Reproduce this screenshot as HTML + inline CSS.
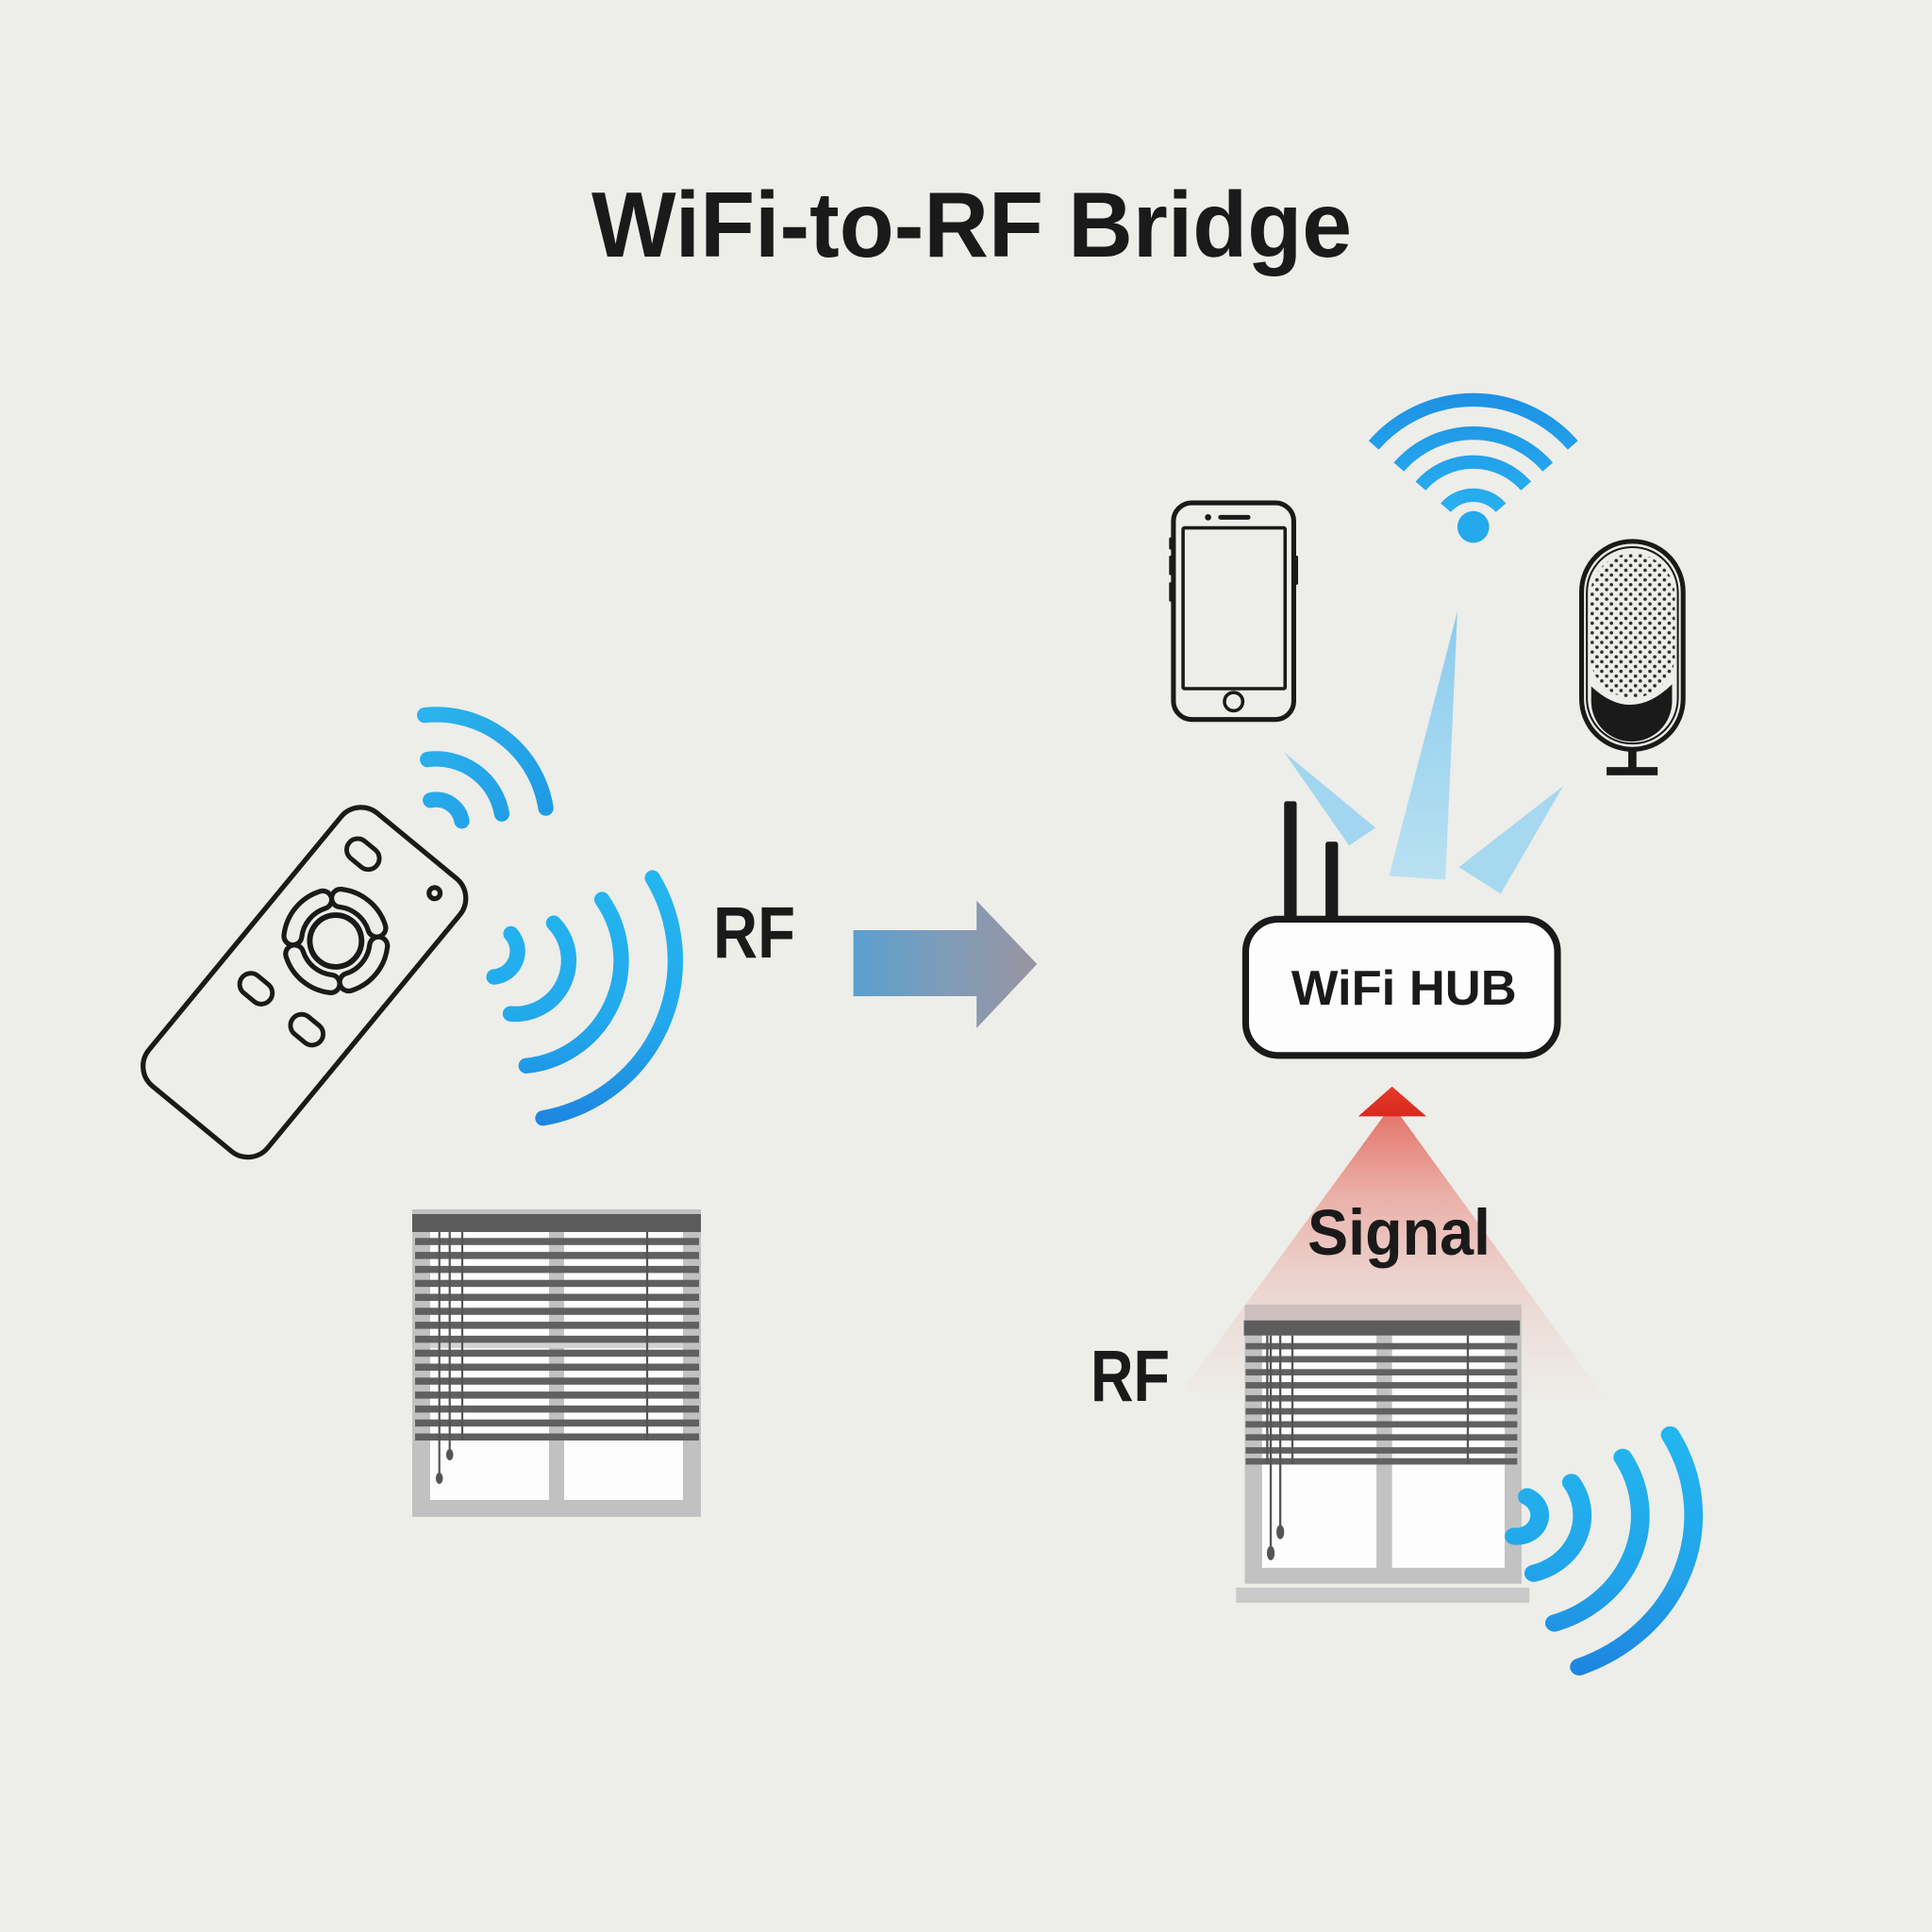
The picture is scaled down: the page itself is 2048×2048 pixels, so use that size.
<!DOCTYPE html>
<html><head><meta charset="utf-8"><style>
html,body{margin:0;padding:0;background:#edede9;}
svg{display:block;}
text{font-family:"Liberation Sans",Arial,sans-serif;font-weight:bold;fill:#1a1a1a;}
</style></head><body>
<svg width="2048" height="2048" viewBox="0 0 2048 2048" xmlns="http://www.w3.org/2000/svg">
<defs>
  <linearGradient id="gUp" gradientUnits="userSpaceOnUse" x1="540" y1="90" x2="730" y2="240">
    <stop offset="0" stop-color="#2ab3ec"/><stop offset="1" stop-color="#1f9be5"/>
  </linearGradient>
  <linearGradient id="gRt" gradientUnits="userSpaceOnUse" x1="0" y1="350" x2="0" y2="750">
    <stop offset="0" stop-color="#24b6ef"/><stop offset="0.6" stop-color="#22a8ec"/><stop offset="1" stop-color="#1e86e0"/>
  </linearGradient>
  <linearGradient id="gBR" gradientUnits="userSpaceOnUse" x1="0" y1="900" x2="0" y2="1500">
    <stop offset="0" stop-color="#22b6ef"/><stop offset="0.6" stop-color="#21a4ea"/><stop offset="1" stop-color="#1e86e0"/>
  </linearGradient>
  <linearGradient id="gArrow" gradientUnits="userSpaceOnUse" x1="1232" y1="0" x2="1530" y2="0">
    <stop offset="0" stop-color="#5a9fd1"/><stop offset="0.5" stop-color="#7f9cb8"/><stop offset="1" stop-color="#9a94a1"/>
  </linearGradient>
  <linearGradient id="gWifi" gradientUnits="userSpaceOnUse" x1="0" y1="70" x2="0" y2="330">
    <stop offset="0" stop-color="#1d90e4"/><stop offset="1" stop-color="#29b2ef"/>
  </linearGradient>
  <linearGradient id="gBeam" gradientUnits="userSpaceOnUse" x1="0" y1="525" x2="0" y2="1085">
    <stop offset="0" stop-color="#8acbed"/><stop offset="1" stop-color="#b9e1f2"/>
  </linearGradient>
  <linearGradient id="gCone" gradientUnits="userSpaceOnUse" x1="0" y1="100" x2="0" y2="820">
    <stop offset="0" stop-color="#e3463a" stop-opacity="0.72"/>
    <stop offset="0.28" stop-color="#e65a4e" stop-opacity="0.42"/>
    <stop offset="0.55" stop-color="#e86a5f" stop-opacity="0.22"/>
    <stop offset="0.78" stop-color="#ea7a70" stop-opacity="0.1"/>
    <stop offset="1" stop-color="#ea7a70" stop-opacity="0"/>
  </linearGradient>
  <linearGradient id="gHead" gradientUnits="userSpaceOnUse" x1="0" y1="28" x2="0" y2="103">
    <stop offset="0" stop-color="#e43a2b"/><stop offset="1" stop-color="#d82a1e"/>
  </linearGradient>
  <pattern id="dots" width="20" height="20" patternUnits="userSpaceOnUse" x="1100" y="405">
    <circle cx="5" cy="5" r="3.6" fill="#2e2e2e"/>
    <circle cx="15" cy="15" r="3.6" fill="#2e2e2e"/>
  </pattern>
  <clipPath id="grille"><rect x="1101" y="405" width="176" height="300" rx="88"/></clipPath>
</defs>

<rect width="2048" height="2048" fill="#edede9"/>

<!-- Title -->
<text x="627" y="272" font-size="98" textLength="806" lengthAdjust="spacingAndGlyphs">WiFi-to-RF Bridge</text>

<!-- ===== Left region (zoom7 coordinates) ===== -->
<g transform="translate(100,700) scale(0.6531)">
  <!-- remote -->
  <g transform="translate(341,522.5) rotate(39.5)" fill="none" stroke="#1a1a1a">
    <rect x="-125" y="-287" width="250" height="574" rx="42" stroke-width="8"/>
    <rect x="-88" y="-239" width="58" height="36" rx="18" stroke-width="7.5"/>
    <circle cx="71" cy="-246" r="9" stroke-width="8"/>
    <rect x="-83" y="40" width="58" height="36" rx="18" stroke-width="7.5"/>
    <rect x="23" y="39" width="58" height="36" rx="18" stroke-width="7.5"/>
    <circle cx="-3.5" cy="-84" r="42" stroke-width="9"/>
    <path d="M55.2,-122.1 A70,70 0 0 1 55.2,-45.9 M34.6,-25.3 A70,70 0 0 1 -41.6,-25.3 M-62.2,-45.9 A70,70 0 0 1 -62.2,-122.1 M-41.6,-142.7 A70,70 0 0 1 34.6,-142.7" stroke-width="37" stroke-linecap="round"/>
    <path d="M55.2,-122.1 A70,70 0 0 1 55.2,-45.9 M34.6,-25.3 A70,70 0 0 1 -41.6,-25.3 M-62.2,-45.9 A70,70 0 0 1 -62.2,-122.1 M-41.6,-142.7 A70,70 0 0 1 34.6,-142.7" stroke="#edede9" stroke-width="21" stroke-linecap="round"/>
  </g>
  <!-- upper waves -->
  <g fill="none" stroke="url(#gUp)" stroke-width="25" stroke-linecap="round">
    <path d="M545.5,227.1 A42,42 0 0 1 596.4,260.7"/>
    <path d="M540.9,160.9 A108,108 0 0 1 661.4,249.2"/>
    <path d="M536.2,89 A180,180 0 0 1 732.8,239.8"/>
  </g>
  <!-- right waves -->
  <g fill="none" stroke="url(#gRt)" stroke-width="25" stroke-linecap="round">
    <path d="M676.2,443.9 A42,42 0 0 1 648.7,513.8"/>
    <path d="M745.6,426.6 A87,87 0 0 1 675.4,573.7"/>
    <path d="M823.9,388.3 A172,172 0 0 1 701,658.1"/>
    <path d="M905.9,353.1 A260,260 0 0 1 728.1,743"/>
  </g>
  <!-- arrow -->
  <polygon points="1232,438 1432,438 1432,390 1530,493 1432,597 1432,545 1232,545" fill="url(#gArrow)"/>
</g>

<text x="756" y="1015" font-size="77" textLength="87" lengthAdjust="spacingAndGlyphs">RF</text>

<!-- Left blinds -->
<g>
  <rect x="437" y="1282" width="306" height="326" fill="#c1c1c1"/>
  <rect x="456" y="1306" width="126" height="284" fill="#fdfdfd"/>
  <rect x="598" y="1306" width="126" height="284" fill="#fdfdfd"/>
  <rect x="456" y="1420" width="268" height="9" fill="#d2d2d2"/>
  <rect x="437" y="1287" width="306" height="19" fill="#5c5c5c"/>
  <g fill="#606060">
    <rect x="440" y="1312.3" width="301" height="7.5"/>
    <rect x="440" y="1327.1" width="301" height="7.5"/>
    <rect x="440" y="1341.9" width="301" height="7.5"/>
    <rect x="440" y="1356.7" width="301" height="7.5"/>
    <rect x="440" y="1371.5" width="301" height="7.5"/>
    <rect x="440" y="1386.3" width="301" height="7.5"/>
    <rect x="440" y="1401.1" width="301" height="7.5"/>
    <rect x="440" y="1415.9" width="301" height="7.5"/>
    <rect x="440" y="1430.7" width="301" height="7.5"/>
    <rect x="440" y="1445.5" width="301" height="7.5"/>
    <rect x="440" y="1460.3" width="301" height="7.5"/>
    <rect x="440" y="1475.1" width="301" height="7.5"/>
    <rect x="440" y="1489.9" width="301" height="7.5"/>
    <rect x="440" y="1504.7" width="301" height="7.5"/>
    <rect x="440" y="1519.5" width="301" height="7.5"/>
  </g>
  <g stroke="#555" stroke-width="2.2">
    <line x1="465.7" y1="1306" x2="465.7" y2="1564"/>
    <line x1="476.7" y1="1306" x2="476.7" y2="1539"/>
    <line x1="490" y1="1306" x2="490" y2="1526"/>
    <line x1="686" y1="1306" x2="686" y2="1526"/>
  </g>
  <ellipse cx="465.7" cy="1567" rx="3.8" ry="6" fill="#555"/>
  <ellipse cx="476.7" cy="1542" rx="3.8" ry="6" fill="#555"/>
</g>

<!-- ===== Right upper region (zoom8 coordinates) ===== -->
<g transform="translate(1124,380) scale(0.5102)">
  <!-- wifi -->
  <g fill="none" stroke="url(#gWifi)" stroke-width="28">
    <path d="M800.6,310.1 A76,76 0 0 1 915.4,310.1"/>
    <path d="M748.6,264.9 A145,145 0 0 1 967.4,264.9"/>
    <path d="M703.3,225.5 A205,205 0 0 1 1012.7,225.5"/>
    <path d="M651.2,180.2 A274,274 0 0 1 1064.8,180.2"/>
  </g>
  <circle cx="858" cy="350" r="33" fill="#25a9ed"/>

  <!-- phone -->
  <g fill="none" stroke="#1a1a1a">
    <rect x="235" y="300" width="250" height="450" rx="38" stroke-width="10"/>
    <rect x="255" y="352" width="212" height="334" rx="3" stroke-width="7"/>
    <circle cx="360" cy="713" r="19" stroke-width="7"/>
    <line x1="333" y1="330" x2="390" y2="330" stroke-width="10" stroke-linecap="round"/>
  </g>
  <circle cx="307" cy="330" r="6.5" fill="#1a1a1a"/>
  <g fill="#1a1a1a">
    <rect x="226" y="372" width="9" height="25" rx="2"/>
    <rect x="226" y="410" width="9" height="40" rx="2"/>
    <rect x="226" y="465" width="9" height="40" rx="2"/>
    <rect x="485" y="410" width="9" height="60" rx="2"/>
  </g>

  <!-- mic -->
  <rect x="1101" y="405" width="176" height="300" fill="url(#dots)" clip-path="url(#grille)"/>
  <path d="M1103,681 Q1186,760 1271,677 L1271,712 A84,84 0 0 1 1103,712 Z" fill="#1a1a1a"/>
  <rect x="1083" y="380" width="211" height="432" rx="105" fill="none" stroke="#1a1a1a" stroke-width="10"/>
  <rect x="1094" y="392" width="189" height="408" rx="94" fill="none" stroke="#1a1a1a" stroke-width="4"/>
  <rect x="1180" y="810" width="17" height="44" fill="#1a1a1a"/>
  <rect x="1135" y="849" width="106" height="17" fill="#1a1a1a"/>

  <!-- beams -->
  <polygon points="465,818 655,975 600,1012" fill="#a2d6f0"/>
  <polygon points="825,525 800,1083 683,1075" fill="url(#gBeam)"/>
  <polygon points="1045,888 915,1112 828,1057" fill="#a6d8f0"/>

  <!-- hub -->
  <rect x="465" y="920" width="26" height="245" rx="5" fill="#1a1a1a"/>
  <rect x="551" y="1004" width="26" height="161" rx="5" fill="#1a1a1a"/>
  <rect x="385" y="1165" width="648" height="283" rx="68" fill="#fdfdfd" stroke="#1a1a1a" stroke-width="14"/>
  <text x="480" y="1343" font-size="102" textLength="468" lengthAdjust="spacingAndGlyphs">WiFi HUB</text>
</g>

<!-- ===== Right lower region (zoom3 coordinates) ===== -->
<g transform="translate(1100,1140) scale(0.4592,0.4209)">
  <polygon points="800,100 836,100 1315,820 330,800" fill="url(#gCone)"/>
  <polygon points="818,28 897,103 740,103" fill="url(#gHead)"/>

  <!-- blinds -->
  <rect x="478" y="577" width="639" height="42" fill="#cbc0be"/>
  <rect x="478" y="617" width="639" height="663" fill="#c2c2c2"/>
  <rect x="518" y="655" width="264" height="585" fill="#fdfdfd"/>
  <rect x="818" y="655" width="260" height="585" fill="#fdfdfd"/>
  <rect x="476" y="617" width="637" height="38" fill="#5d5d5d"/>
  <g fill="#616161">
    <rect x="480" y="674" width="627" height="16"/>
    <rect x="480" y="706.8" width="627" height="16"/>
    <rect x="480" y="739.6" width="627" height="16"/>
    <rect x="480" y="772.4" width="627" height="16"/>
    <rect x="480" y="805.2" width="627" height="16"/>
    <rect x="480" y="838" width="627" height="16"/>
    <rect x="480" y="870.8" width="627" height="16"/>
    <rect x="480" y="903.6" width="627" height="16"/>
    <rect x="480" y="936.4" width="627" height="16"/>
    <rect x="480" y="964" width="627" height="16"/>
  </g>
  <g stroke="#555" stroke-width="5">
    <line x1="530" y1="655" x2="530" y2="979"/>
    <line x1="588" y1="655" x2="588" y2="979"/>
    <line x1="993" y1="655" x2="993" y2="979"/>
    <line x1="538" y1="655" x2="538" y2="1200"/>
    <line x1="560" y1="655" x2="560" y2="1145"/>
  </g>
  <ellipse cx="538" cy="1203" rx="9" ry="18" fill="#555"/>
  <ellipse cx="560" cy="1150" rx="9" ry="18" fill="#555"/>
  <rect x="458" y="1290" width="677" height="38" fill="#c9c9c9"/>

  <!-- waves -->
  <g fill="none" stroke="url(#gBR)" stroke-width="43" stroke-linecap="round">
    <path d="M1130.1,1060.8 A53,53 0 0 1 1099.9,1160.6"/>
    <path d="M1232.1,1024.9 A151,151 0 0 1 1145.1,1253.9"/>
    <path d="M1350.6,961.7 A285,285 0 0 1 1193.1,1379.3"/>
    <path d="M1460.1,905.2 A408,408 0 0 1 1250.2,1489.6"/>
  </g>
</g>

<text x="1386" y="1330" font-size="69" textLength="194" lengthAdjust="spacingAndGlyphs">Signal</text>
<text x="1156" y="1485" font-size="77" textLength="84" lengthAdjust="spacingAndGlyphs">RF</text>
</svg>
</body></html>
